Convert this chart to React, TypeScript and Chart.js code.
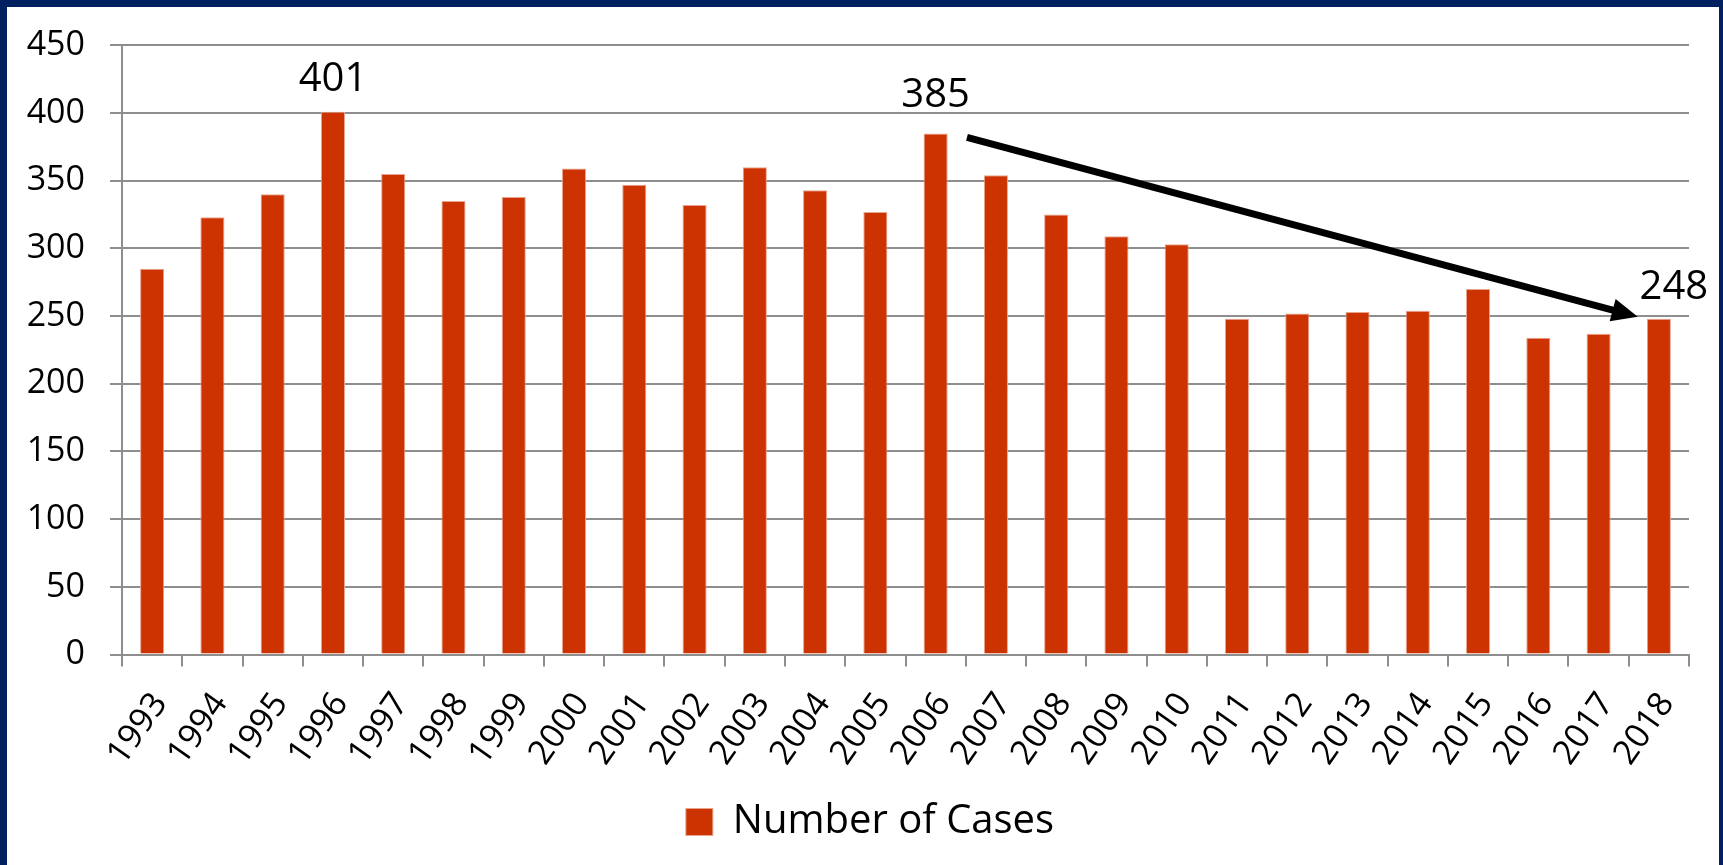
import React, { useEffect, useRef } from "react";
import { Chart, registerables } from "chart.js";

Chart.register(...registerables);

// ---- data ----
const years = [
  "1993", "1994", "1995", "1996", "1997", "1998", "1999", "2000", "2001",
  "2002", "2003", "2004", "2005", "2006", "2007", "2008", "2009", "2010",
  "2011", "2012", "2013", "2014", "2015", "2016", "2017", "2018",
];
const cases = [
  285, 323, 340, 401, 355, 335, 338, 359, 347, 332, 360, 343, 327, 385, 354,
  325, 309, 303, 248, 252, 253, 254, 270, 234, 237, 248,
];
const seriesLabel = "Number of Cases";
const yMin = 0;
const yMax = 450;
const yStep = 50;
const calloutYears = ["1996", "2006", "2018"];
const trendFrom = "2006";
const trendTo = "2018";

// ---- styling ----
const FONT = "'Open Sans', 'DejaVu Sans', sans-serif";
const BAR = "#CC3300";
const GRID = "#8E8E8E";
const NAVY = "#002060";
const LEGEND_CENTER_X = 870;

const calloutOffsets: Record<string, { dx: number; dy: number }> = {
  "1996": { dx: 0, dy: 21 },
  "2006": { dx: 0, dy: 26 },
  "2018": { dx: 15, dy: 20 },
};

const framePlugin = {
  id: "frame",
  afterLayout(chart: any) {
    const lg = chart.legend;
    if (lg) {
      const c = (lg.left + lg.right) / 2;
      const d = LEGEND_CENTER_X - c;
      lg.left += d;
      lg.right += d;
    }
  },
  beforeDraw(chart: any) {
    const { ctx, width, height } = chart;
    ctx.save();
    ctx.fillStyle = "#ffffff";
    ctx.fillRect(0, 0, width, height);
    ctx.restore();
  },
  afterDraw(chart: any) {
    const { ctx, width, height } = chart;
    ctx.save();
    ctx.fillStyle = NAVY;
    ctx.fillRect(0, 0, width, 7);
    ctx.fillRect(0, 0, 7, height);
    ctx.fillRect(width - 4, 0, 4, height);
    ctx.restore();
  },
};

const calloutPlugin = {
  id: "callouts",
  afterDatasetsDraw(chart: any) {
    const { ctx } = chart;
    const xs = chart.scales.x;
    const ys = chart.scales.y;
    ctx.save();
    ctx.fillStyle = "#000";
    ctx.font = `40px ${FONT}`;
    ctx.textAlign = "center";
    ctx.textBaseline = "alphabetic";
    calloutYears.forEach((yr) => {
      const i = years.indexOf(yr);
      const off = calloutOffsets[yr] || { dx: 0, dy: 20 };
      const px = xs.getPixelForValue(i) + off.dx;
      const py = ys.getPixelForValue(cases[i]) - off.dy;
      ctx.fillText(String(cases[i]), px, py);
    });

    // trend arrow
    const i0 = years.indexOf(trendFrom);
    const i1 = years.indexOf(trendTo);
    const catW = xs.getPixelForValue(1) - xs.getPixelForValue(0);
    const x0 = xs.getPixelForValue(i0) + catW * 0.52;
    const y0 = ys.getPixelForValue(cases[i0]) + 4;
    const x1 = xs.getPixelForValue(i1) - catW * 0.35;
    const y1 = ys.getPixelForValue(cases[i1]) - 2;
    const dx = x1 - x0;
    const dy = y1 - y0;
    const len = Math.sqrt(dx * dx + dy * dy);
    const ux = dx / len;
    const uy = dy / len;
    const headL = 26;
    const headW = 11.5;
    const bx = x1 - ux * headL;
    const by = y1 - uy * headL;
    ctx.strokeStyle = "#000";
    ctx.lineWidth = 7;
    ctx.lineCap = "butt";
    ctx.beginPath();
    ctx.moveTo(x0, y0);
    ctx.lineTo(bx + ux * 2, by + uy * 2);
    ctx.stroke();
    ctx.beginPath();
    ctx.moveTo(x1, y1);
    ctx.lineTo(bx - uy * headW, by + ux * headW);
    ctx.lineTo(bx + uy * headW, by - ux * headW);
    ctx.closePath();
    ctx.fill();
    ctx.restore();
  },
};

export default function App() {
  const ref = useRef<HTMLCanvasElement | null>(null);

  useEffect(() => {
    if (!ref.current) return;
    const chart = new Chart(ref.current, {
      type: "bar",
      data: {
        labels: years,
        datasets: [
          {
            label: seriesLabel,
            data: cases,
            backgroundColor: BAR,
            borderColor: "#E9A48F",
            borderWidth: 1,
            barPercentage: 0.4,
            categoryPercentage: 1.0,
          },
        ],
      },
      options: {
        responsive: false,
        animation: false,
        devicePixelRatio: 1,
        layout: { padding: { top: 44, left: 0, right: 34, bottom: 13 } },
        plugins: {
          tooltip: { enabled: false },
          legend: {
            display: true,
            position: "bottom",
            labels: {
              color: "#000",
              font: { family: FONT, size: 40 },
              boxWidth: 27,
              boxHeight: 27,
              padding: 10,
            },
          },
        },
        scales: {
          x: {
            offset: true,
            grid: {
              display: true,
              drawOnChartArea: false,
              drawTicks: true,
              tickLength: 12,
              color: GRID,
              lineWidth: 2,
              offset: true,
            },
            border: { display: true, color: GRID, width: 2 },
            ticks: {
              color: "#000",
              font: { family: FONT, size: 34 },
              minRotation: 55,
              maxRotation: 55,
              autoSkip: false,
              padding: 19,
              labelOffset: 8,
            },
            afterFit(scale: any) {
              scale.height = 137.5;
            },
          },
          y: {
            min: yMin,
            max: yMax,
            ticks: {
              stepSize: yStep,
              color: "#000",
              font: { family: FONT, size: 34 },
              padding: 25,
            },
            grid: {
              color: GRID,
              lineWidth: 2,
              tickLength: 12,
              drawTicks: true,
            },
            border: { display: true, color: GRID, width: 2 },
            afterFit(scale: any) {
              scale.width = 122;
            },
          },
        },
      },
      plugins: [framePlugin, calloutPlugin],
    });
    if ((document as any).fonts && (document as any).fonts.load) {
      (document as any).fonts
        .load(`40px 'Open Sans'`)
        .then(() => chart.update())
        .catch(() => {});
    }
    return () => chart.destroy();
  }, []);

  return (
    <div style={{ position: "fixed", left: 0, top: 0, width: 1723, height: 865 }}>
      <canvas ref={ref} width={1723} height={865} style={{ display: "block" }} />
    </div>
  );
}
